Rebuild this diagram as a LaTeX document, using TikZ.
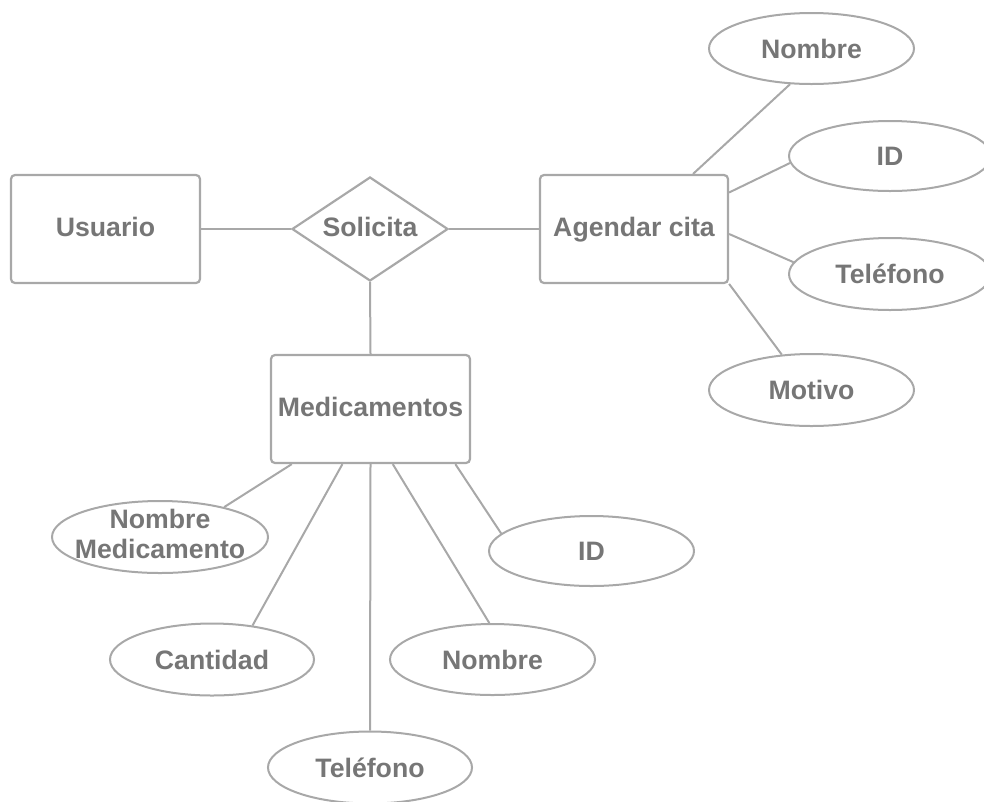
\documentclass[tikz,border=0pt]{standalone}
\usepackage{fontspec}
\setmainfont{Liberation Sans}
\usetikzlibrary{shapes.geometric}
\newdimen\px \px=0.75pt
\definecolor{linegray}{RGB}{168,168,168}
\definecolor{textgray}{RGB}{118,118,118}
\tikzset{
  lbl/.style={text=textgray, font=\bfseries\fontsize{20}{21}\selectfont, align=center},
  fixbase/.style={text height=14.3pt, text depth=3pt},
  entity/.style={lbl, fixbase, draw=linegray, line width=2.2\px, rounded corners=4\px, inner sep=0pt},
  attr/.style={lbl, draw=linegray, line width=2\px, ellipse, inner sep=0pt, minimum width=204\px, minimum height=72\px},
  rel/.style={lbl, fixbase, draw=linegray, line width=2.2\px, diamond, aspect=1.5, inner sep=0pt, minimum width=156\px, minimum height=104\px},
  conn/.style={draw=linegray, line width=2\px}
}
\begin{document}
\begin{tikzpicture}[x=0.75pt,y=-0.75pt]
\useasboundingbox (0,0) rectangle (984,801);
% entities
\node[entity, minimum width=189\px, minimum height=108\px] (us) at (105.5,229) {Usuario};
\node[rel] (so) at (370,229) {Solicita};
\node[entity, minimum width=188\px, minimum height=108\px] (ag) at (634,229) {Agendar cita};
\node[entity, minimum width=199\px, minimum height=108\px] (ms) at (370.5,409) {Medicamentos};
% attributes of Agendar cita
\node[attr, minimum width=205\px, minimum height=71\px] (an) at (811.5,48.5) {Nombre};
\node[attr, minimum width=202\px, minimum height=70\px] (ai) at (890,156) {ID};
\node[attr, minimum width=202\px, minimum height=72\px] (at) at (890,274) {Teléfono};
\node[attr, minimum width=205\px, minimum height=72\px] (am) at (811.5,390) {Motivo};
% attributes of Medicamentos
\node[attr, minimum width=216\px, minimum height=72\px, inner xsep=-30pt, inner ysep=-16pt, text depth=5pt] (mnm) at (160,537) {Nombre\\[2pt]Medicamento};
\node[attr] (mc) at (212,659.5) {Cantidad};
\node[attr] (mt) at (370,767.5) {Teléfono};
\node[attr, minimum width=205\px, minimum height=71\px] (mn) at (492.5,659.5) {Nombre};
\node[attr, minimum width=205\px, minimum height=70\px] (mi) at (591.5,551) {ID};
% connectors
\draw[conn] (us.east) -- (so.west);
\draw[conn] (so.east) -- (ag.west);
\draw[conn] (so.south) -- (ms.north);
\draw[conn] (ag.43.5) -- (an.239);
\draw[conn] (ag.21) -- (ai.184);
\draw[conn] (ag.357) -- (at.173);
\draw[conn] (ag.330) -- (am.130);
\draw[conn] (ms.215) -- (mnm.25);
\draw[conn] (ms.243) -- (mc.40);
\draw[conn] (ms.south) -- (mt.north);
\draw[conn] (ms.292) -- (mn.95);
\draw[conn] (ms.327) -- (mi.169);
\end{tikzpicture}
\end{document}
